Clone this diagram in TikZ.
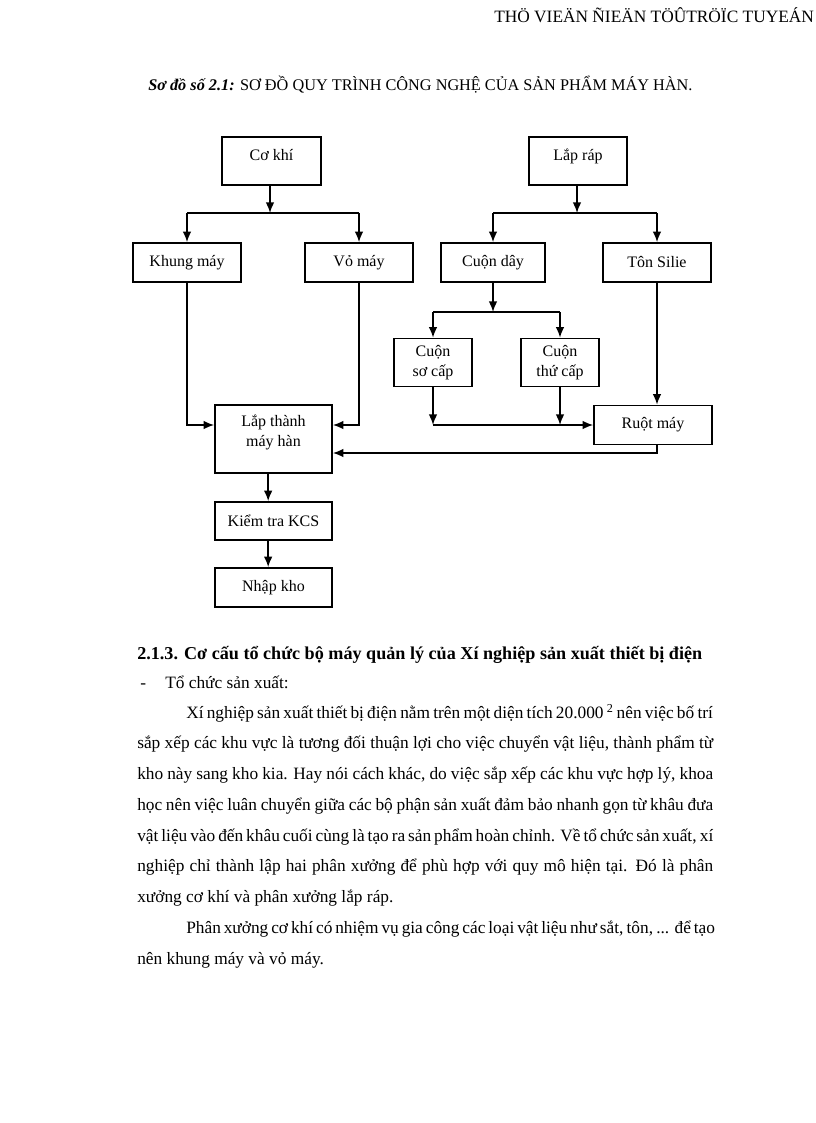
\documentclass[tikz,border=0pt]{standalone}
\usepackage{fontspec}
\setmainfont{Liberation Serif}
\usetikzlibrary{arrows.meta,positioning}
\tikzstyle{procbox}=[draw, line width=1.2pt, inner sep=2pt, align=center, font=\fontsize{12}{15}\selectfont]
\tikzstyle{flowline}=[line width=1.2pt]
\tikzstyle{flowarrow}=[line width=1.2pt, -{Latex[length=8pt,width=6.5pt]}]
\tikzstyle{bodytext}=[inner sep=0pt, anchor=west, text height=9pt, text depth=3pt, font=\fontsize{13}{15}\selectfont]

\begin{document}
\begin{tikzpicture}[x=0.75pt,y=-0.75pt]
    \useasboundingbox (0,0) rectangle (816,1123);

    % header and caption
    \node[bodytext] (header) at (494,19) {THÖ VIEÄN ÑIEÄN TÖÛTRÖÏC TUYEÁN};
    \node[bodytext, font=\fontsize{12.2}{15}\selectfont] (caption) at (148,87) {\textbf{\textit{Sơ đồ số 2.1:}} SƠ ĐỒ QUY TRÌNH CÔNG NGHỆ CỦA SẢN PHẨM MÁY HÀN.};

    % boxes
    \node[procbox, minimum width=74pt, minimum height=36pt, text depth=9pt] (coKhi) at (271.5,161) {Cơ khí};
    \node[procbox, minimum width=73.5pt, minimum height=36pt, text depth=9pt] (lapRap) at (578,161) {Lắp ráp};
    \node[procbox, minimum width=81pt, minimum height=29.25pt] (khungMay) at (187,262.5) {Khung máy};
    \node[procbox, minimum width=81pt, minimum height=29.25pt] (voMay) at (359,262.5) {Vỏ máy};
    \node[procbox, minimum width=78pt, minimum height=29.25pt] (cuonDay) at (493,262.5) {Cuộn dây};
    \node[procbox, minimum width=81pt, minimum height=29.25pt] (tonSilie) at (657,262.5) {Tôn Silie};
    \node[procbox, minimum width=58.5pt, minimum height=36pt] (cuonSo) at (433,362.5) {Cuộn\\sơ cấp};
    \node[procbox, minimum width=58.5pt, minimum height=36pt] (cuonThu) at (560,362.5) {Cuộn\\thứ cấp};
    \node[procbox, minimum width=87.75pt, minimum height=51pt, text depth=12pt] (lapThanh) at (273.5,439) {Lắp thành\\máy hàn};
    \node[procbox, minimum width=88.5pt, minimum height=29.25pt] (ruotMay) at (653,425) {Ruột máy};
    \node[procbox, minimum width=87.75pt, minimum height=28.5pt] (kiemTra) at (273.5,521) {Kiểm tra KCS};
    \node[procbox, minimum width=87.75pt, minimum height=29.25pt] (nhapKho) at (273.5,587.5) {Nhập kho};

    % bus points
    \coordinate (busCo) at (270,213);
    \coordinate (busRap) at (577,213);
    \coordinate (busDay) at (493,312);

    % Co khi branch
    \draw[flowarrow] (coKhi.south -| busCo) -- (busCo);
    \draw[flowline] (khungMay.north |- busCo) -- (voMay.north |- busCo);
    \draw[flowarrow] (khungMay.north |- busCo) -- (khungMay);
    \draw[flowarrow] (voMay.north |- busCo) -- (voMay);
    \draw[flowarrow] (khungMay.south) |- ([yshift=10.5pt]lapThanh.west);
    \draw[flowarrow] (voMay.south) |- ([yshift=10.5pt]lapThanh.east);

    % Lap rap branch
    \draw[flowarrow] (lapRap.south -| busRap) -- (busRap);
    \draw[flowline] (cuonDay.north |- busRap) -- (tonSilie.north |- busRap);
    \draw[flowarrow] (cuonDay.north |- busRap) -- (cuonDay);
    \draw[flowarrow] (tonSilie.north |- busRap) -- (tonSilie);
    \draw[flowarrow] (cuonDay) -- (busDay);
    \draw[flowline] (cuonSo.north |- busDay) -- (cuonThu.north |- busDay);
    \draw[flowarrow] (cuonSo.north |- busDay) -- (cuonSo);
    \draw[flowarrow] (cuonThu.north |- busDay) -- (cuonThu);
    \draw[flowarrow] (cuonSo) -- (cuonSo.south |- ruotMay.west);
    \draw[flowarrow] (cuonThu) -- (cuonThu.south |- ruotMay.west);
    \draw[flowarrow] (cuonSo.south |- ruotMay.west) -- (ruotMay);
    \draw[flowarrow] (tonSilie.south) -- (tonSilie.south |- ruotMay.north);
    \draw[flowarrow] (tonSilie.south |- ruotMay.south) |- ([yshift=-10.5pt]lapThanh.east);

    % final steps
    \draw[flowarrow] ([xshift=-4pt]lapThanh.south) -- ([xshift=-4pt]kiemTra.north);
    \draw[flowarrow] ([xshift=-4pt]kiemTra.south) -- ([xshift=-4pt]nhapKho.north);

    % text below
    \node[bodytext, font=\bfseries\fontsize{13.6}{16}\selectfont] (heading) at (137,655) {2.1.3. Cơ cấu tổ chức bộ máy quản lý của Xí nghiệp sản xuất thiết bị điện};
    \node[bodytext] (dash) at (140,684) {-};
    \node[bodytext] (subhead) at (165,684) {Tổ chức sản xuất:};
    \node[bodytext] (line1) at (186,714) {\makebox[395pt][s]{Xí nghiệp sản xuất thiết bị điện nằm trên một diện tích 20.000 \textsuperscript{2} nên việc bố trí}};
    \node[bodytext] (line2) at (137,744.75) {\makebox[432pt][s]{sắp xếp các khu vực là tương đối thuận lợi cho việc chuyển vật liệu, thành phẩm từ}};
    \node[bodytext] (line3) at (137,775.5) {\makebox[432pt][s]{kho này sang kho kia. Hay nói cách khác, do việc sắp xếp các khu vực hợp lý, khoa}};
    \node[bodytext] (line4) at (137,806.25) {\makebox[432pt][s]{học nên việc luân chuyển giữa các bộ phận sản xuất đảm bảo nhanh gọn từ khâu đưa}};
    \node[bodytext] (line5) at (137,837) {\makebox[432pt][s]{vật liệu vào đến khâu cuối cùng là tạo ra sản phẩm hoàn chỉnh. Về tổ chức sản xuất, xí}};
    \node[bodytext] (line6) at (137,867.75) {\makebox[432pt][s]{nghiệp chỉ thành lập hai phân xưởng để phù hợp với quy mô hiện tại. Đó là phân}};
    \node[bodytext] (line7) at (137,898.5) {xưởng cơ khí và phân xưởng lắp ráp.};
    \node[bodytext] (line8) at (186,929.25) {\makebox[395pt][s]{Phân xưởng cơ khí có nhiệm vụ gia công các loại vật liệu như sắt, tôn, ... để tạo}};
    \node[bodytext] (line9) at (137,960) {nên khung máy và vỏ máy.};
\end{tikzpicture}
\end{document}
